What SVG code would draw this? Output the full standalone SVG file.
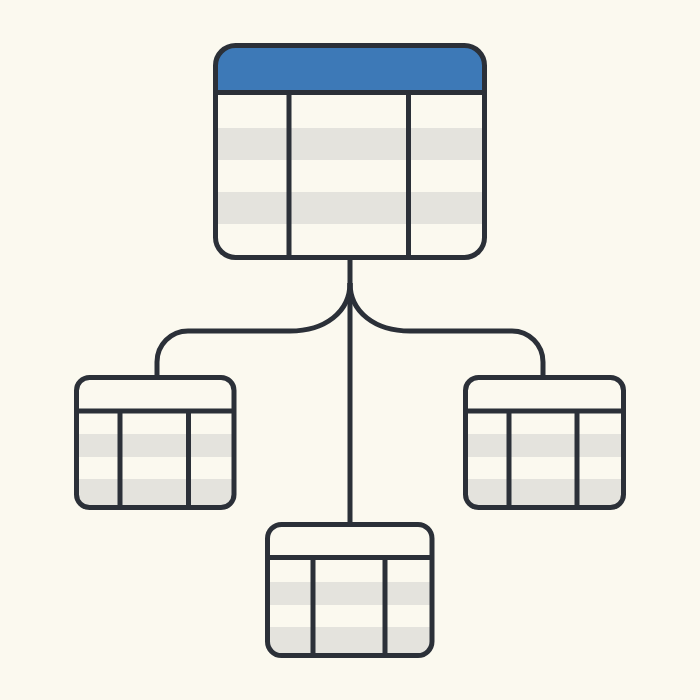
<svg xmlns="http://www.w3.org/2000/svg" width="700" height="700" viewBox="0 0 700 700">
  <style>
    .bg { fill: #fbf9ef; }
    .frame { fill: none; stroke: #2b3038; stroke-width: 5; }
    .ln { stroke: #2b3038; stroke-width: 5; fill: none; }
    .stripe { fill: #e4e3dd; }
    .head { fill: #3d79b7; }
    .cell { fill: #fbf9ef; }
    .conn { fill: none; stroke: #2b3038; stroke-width: 5; stroke-linecap: butt; }
  </style>
  <defs>
    <clipPath id="cTop"><rect x="215.5" y="45.5" width="269" height="212" rx="20"/></clipPath>
    <clipPath id="cLeft"><rect x="76.5" y="377.5" width="157.5" height="130" rx="13"/></clipPath>
    <clipPath id="cRight"><rect x="465.5" y="377.5" width="158" height="130" rx="13"/></clipPath>
    <clipPath id="cBottom"><rect x="267.5" y="524.5" width="164.5" height="131" rx="14"/></clipPath>
  </defs>
  <rect class="bg" x="0" y="0" width="700" height="700"/>

  <g id="connectors">
    <line class="conn" x1="350" y1="257" x2="350" y2="525"/>
    <path class="conn" d="M350,283 C350,312 325,331 290,331 L188,331 A31,31 0 0 0 157,362 L157,378"/>
    <path class="conn" d="M350,283 C350,312 375,331 410,331 L512,331 A31,31 0 0 1 543,362 L543,378"/>
  </g>

  <g id="table-main">
    <g clip-path="url(#cTop)">
      <rect class="cell" x="215" y="45" width="270" height="213"/>
      <rect class="head" x="215" y="45" width="270" height="48"/>
      <rect class="stripe" x="215" y="128" width="270" height="32"/>
      <rect class="stripe" x="215" y="192" width="270" height="32"/>
    </g>
    <line class="ln" x1="215.5" y1="92.5" x2="484.5" y2="92.5"/>
    <line class="ln" x1="289" y1="92.5" x2="289" y2="257.5"/>
    <line class="ln" x1="408.5" y1="92.5" x2="408.5" y2="257.5"/>
    <rect class="frame" x="215.5" y="45.5" width="269" height="212" rx="20"/>
  </g>

  <g id="table-left">
    <g clip-path="url(#cLeft)">
      <rect class="cell" x="76" y="377" width="158" height="131"/>
      <rect class="stripe" x="76" y="434" width="158" height="23"/>
      <rect class="stripe" x="76" y="479" width="158" height="29"/>
    </g>
    <line class="ln" x1="76.5" y1="411" x2="234" y2="411"/>
    <line class="ln" x1="120" y1="411" x2="120" y2="507.5"/>
    <line class="ln" x1="188.5" y1="411" x2="188.5" y2="507.5"/>
    <rect class="frame" x="76.5" y="377.5" width="157.5" height="130" rx="13"/>
  </g>

  <g id="table-right">
    <g clip-path="url(#cRight)">
      <rect class="cell" x="465" y="377" width="159" height="131"/>
      <rect class="stripe" x="465" y="434" width="159" height="23"/>
      <rect class="stripe" x="465" y="479" width="159" height="29"/>
    </g>
    <line class="ln" x1="465.5" y1="411" x2="623.5" y2="411"/>
    <line class="ln" x1="509" y1="411" x2="509" y2="507.5"/>
    <line class="ln" x1="577" y1="411" x2="577" y2="507.5"/>
    <rect class="frame" x="465.5" y="377.5" width="158" height="130" rx="13"/>
  </g>

  <g id="table-bottom">
    <g clip-path="url(#cBottom)">
      <rect class="cell" x="267" y="524" width="165" height="132"/>
      <rect class="stripe" x="267" y="582" width="165" height="23"/>
      <rect class="stripe" x="267" y="627" width="165" height="29"/>
    </g>
    <line class="ln" x1="267.5" y1="557.5" x2="432" y2="557.5"/>
    <line class="ln" x1="313" y1="557.5" x2="313" y2="655.5"/>
    <line class="ln" x1="385" y1="557.5" x2="385" y2="655.5"/>
    <rect class="frame" x="267.5" y="524.5" width="164.5" height="131" rx="14"/>
  </g>
</svg>
